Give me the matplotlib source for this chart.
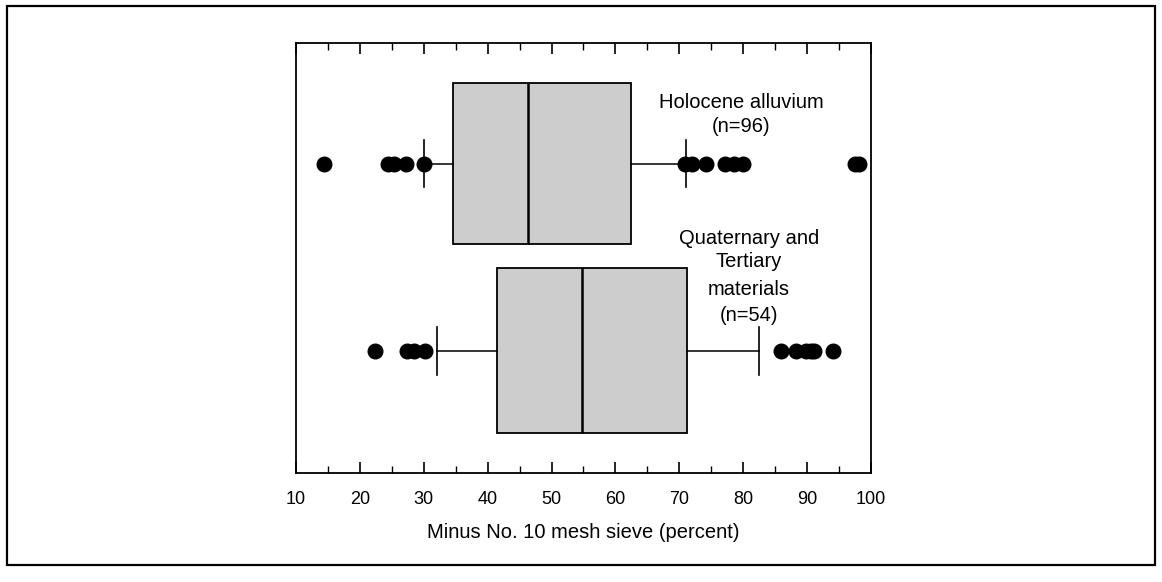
import matplotlib
matplotlib.use('Agg')
import matplotlib.pyplot as plt
from matplotlib.patches import Rectangle

plt.rcParams['font.family'] = ['Liberation Sans', 'DejaVu Sans']

# Minus No. 10 mesh sieve (percent)
groups = ['Holocene alluvium', 'Quaternary and Tertiary materials']
q1 = [34.6, 41.4]
med = [46.3, 54.8]
q3 = [62.5, 71.2]
whislo = [30.0, 32.1]
whishi = [71.0, 82.4]
fliers_holocene = [14.4, 24.4, 25.4, 27.2, 30.0, 70.9, 72.0, 74.1, 77.2, 78.5, 80.0, 97.5, 98.1]
fliers_qt = [22.3, 27.3, 28.5, 30.2, 85.9, 88.2, 89.8, 90.6, 91.1, 94.1]
fliers = [fliers_holocene, fliers_qt]

labels_holocene = ['Holocene alluvium', '(n=96)']
labels_qt = ['Quaternary and', 'Tertiary', 'materials', '(n=54)']

xticks = list(range(10, 101, 10))
minor_ticks = list(range(15, 100, 10))

stats = []
for i in range(len(groups)):
    stats.append({'label': groups[i], 'q1': q1[i], 'med': med[i], 'q3': q3[i],
                  'whislo': whislo[i], 'whishi': whishi[i], 'fliers': fliers[i]})

fig = plt.figure(figsize=(11.62, 5.82), dpi=100)
ax = fig.add_axes([0.2547, 0.1873, 0.4949, 0.7388])

# outer frame of the figure
fig.patches.append(Rectangle((7 / 1162, 1 - 565 / 582), 1148 / 1162, 559 / 582,
                             transform=fig.transFigure, fill=False,
                             edgecolor='black', linewidth=1.6))

ax.bxp(stats, positions=[0.719, 0.284], widths=[0.375, 0.384], vert=False,
       patch_artist=True, capwidths=0.11,
       boxprops=dict(facecolor='#cdcdcd', edgecolor='black', linewidth=1.3),
       medianprops=dict(color='black', linewidth=1.8),
       whiskerprops=dict(color='black', linewidth=1.1),
       capprops=dict(color='black', linewidth=1.2),
       flierprops=dict(marker='o', markerfacecolor='black', markeredgecolor='black',
                       markersize=10.5, linestyle='none'))

ax.set_xlim(10, 100)
ax.set_ylim(0, 1)
ax.set_xticks(xticks)
ax.set_xticks(minor_ticks, minor=True)
ax.set_yticks([])
ax.tick_params(axis='x', which='major', direction='in', length=8, width=1.2,
               top=True, labelsize=13, pad=13)
ax.tick_params(axis='x', which='minor', direction='in', length=5, width=1.0, top=True)
for sp in ax.spines.values():
    sp.set_linewidth(1.3)

ax.set_xlabel('Minus No. 10 mesh sieve (percent)', fontsize=14.5, labelpad=11)

ys_h = [0.8605, 0.8047]
for txt, y in zip(labels_holocene, ys_h):
    ax.text(79.7, y, txt, ha='center', va='center', fontsize=14.5)
ys_q = [0.5465, 0.4907, 0.4256, 0.367]
for txt, y in zip(labels_qt, ys_q):
    ax.text(80.9, y, txt, ha='center', va='center', fontsize=14.5)

fig.savefig('out.png', dpi=100)
